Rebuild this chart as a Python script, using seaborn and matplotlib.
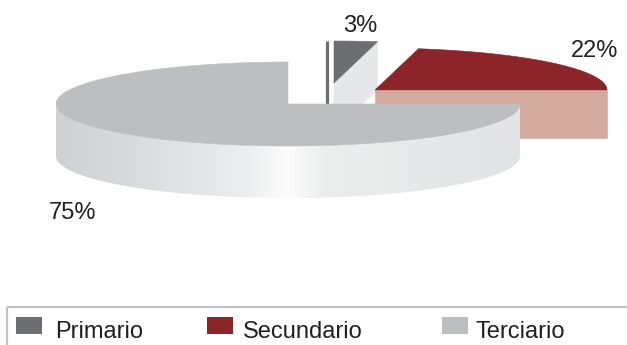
import numpy as np
import matplotlib
matplotlib.use("Agg")
import matplotlib.pyplot as plt
from matplotlib.patches import Polygon, Rectangle
from matplotlib.colors import LinearSegmentedColormap
import seaborn as sns

# Employment share by economic sector
sectors = ["Primario", "Secundario", "Terciario"]
shares = [3, 22, 75]
value_labels = ["3%", "22%", "75%"]

sns.set_style("white")
plt.rcParams["font.family"] = ["Liberation Sans", "DejaVu Sans"]

top_colors = sns.color_palette(["#6d6e71", "#8b2529", "#bcbec0"])
cut_colors = ["#e6e7e8", "#d3aa9e", "#e6e7e8"]
side_cmap = LinearSegmentedColormap.from_list(
    "side",
    [(0.00, "#cfd0d2"), (0.20, "#dcdddf"), (0.42, "#eeeff0"),
     (0.50, "#fcfcfc"), (0.58, "#eceded"), (1.00, "#e2e3e4")],
)

W, H = 627, 345
fig = plt.figure(figsize=(W / 100, H / 100), dpi=100)
ax = fig.add_axes([0, 0, 1, 1])
ax.set_xlim(0, W)
ax.set_ylim(H, 0)
ax.axis("off")

# flattened-ellipse geometry of the 3D pie (screen units)
RX, RY = 232, 42
centers = [(334, 83), (375, 90), (288, 104)]   # exploded slice centres
depths = [48, 48, 52]
label_pos = [(360, 32), (595, 57), (72, 219)]


def rim(cx, cy, t0, t1, n=200, dy=0.0):
    t = np.radians(np.linspace(t0, t1, n))
    return np.column_stack([cx + RX * np.cos(t), cy - RY * np.sin(t) + dy])


def radial(cx, cy, th):
    r = np.radians(th)
    return cx + RX * np.cos(r), cy - RY * np.sin(r)


def poly(pts, color, z):
    p = Polygon(pts, closed=True, facecolor=color, edgecolor=color,
                linewidth=0.4, zorder=z)
    ax.add_patch(p)
    return p


# slices run clockwise from 12 o'clock
cum = np.concatenate([[0], np.cumsum(shares)]) / np.sum(shares)
starts = 90 - 360 * cum[:-1]
ends = 90 - 360 * cum[1:]

for i, (a, b) in enumerate(zip(starts, ends)):
    cx, cy = centers[i]
    d = depths[i]
    z = 2 + 3 * i

    # cut face at the clockwise end of the slice (faces the viewer)
    if np.sin(np.radians(b - 90)) < -1e-6:
        ex, ey = radial(cx, cy, b)
        poly([(cx, cy), (ex, ey), (ex, ey + d), (cx, cy + d)], cut_colors[i], z)

    # curved outer wall, front half only, with a soft horizontal shading
    if min(a, b) < 0:
        upper = rim(cx, cy, 180, 360)
        lower = rim(cx, cy, 360, 180, dy=d)
        wall = np.vstack([upper, lower])
        clip = Polygon(wall, closed=True, facecolor="none", edgecolor="none")
        ax.add_patch(clip)
        x0, x1 = cx - RX, cx + RX
        grad = np.linspace(0, 1, 512)[None, :]
        im = ax.imshow(grad, cmap=side_cmap, aspect="auto",
                       extent=(x0, x1, cy + RY + d + 2, cy - 2),
                       interpolation="bilinear", zorder=z + 1)
        im.set_clip_path(clip)

    # edge-on cut face at 12 o'clock of the small slice
    if i == 0:
        ax.plot([cx - 7, cx - 7], [cy - RY, cy + d], color=top_colors[0],
                lw=2.3, solid_capstyle="butt", zorder=z)

    # top face
    top = np.vstack([[cx, cy], rim(cx, cy, a, b)])
    poly(top, top_colors[i], z + 2)

for (x, y), txt in zip(label_pos, value_labels):
    ax.text(x, y, txt, ha="center", va="baseline", fontsize=17,
            color="#231f20", zorder=20)

# legend strip along the bottom
ax.add_patch(Rectangle((7, 307), 700, 100, fill=False, edgecolor="#c3c3c3",
                       linewidth=1.6, clip_on=False, zorder=20))
marker_x = [16, 207, 442]
text_x = [55, 243, 476]
for i, name in enumerate(sectors):
    ax.add_patch(Rectangle((marker_x[i], 317), 26, 17, facecolor=top_colors[i],
                           edgecolor="none", zorder=21))
    ax.text(text_x[i], 338, name, ha="left", va="baseline", fontsize=17,
            color="#231f20", zorder=21)

fig.savefig("out.png", dpi=100)
